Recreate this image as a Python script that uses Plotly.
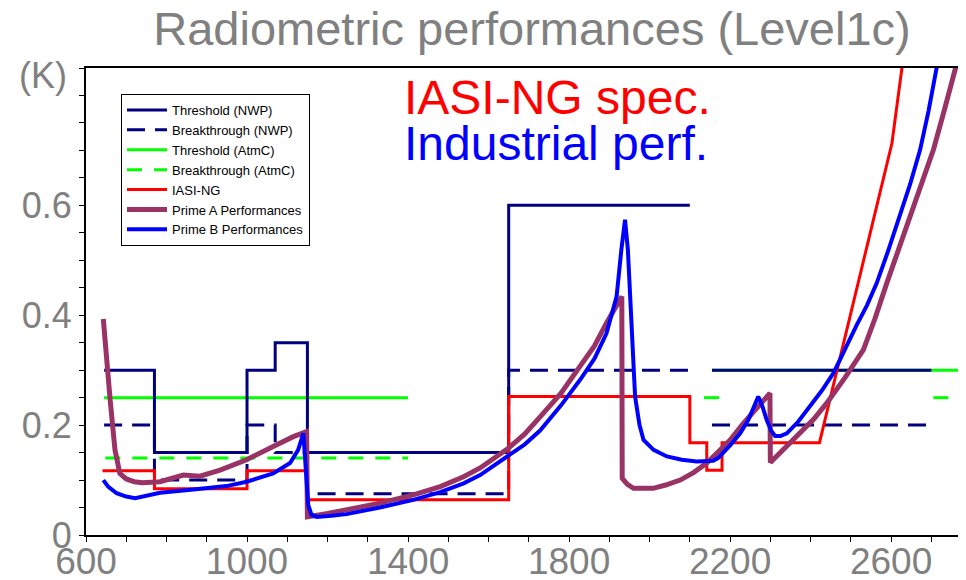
import plotly.graph_objects as go

# ---------------- data ----------------
thr_nwp_x = [645, 770, 770, 1000, 1000, 1070, 1070, 1150, 1150, 1650, 1650, 2100, None, 2155, 2700]
thr_nwp_y = [0.30, 0.30, 0.15, 0.15, 0.30, 0.30, 0.35, 0.35, 0.15, 0.15, 0.60, 0.60, None, 0.30, 0.30]

brk_nwp_x = [645, 770, 770, 1000, 1000, 1070, 1070, 1150, 1150, 1650, 1650, 2100, None, 2155, 2700]
brk_nwp_y = [0.20, 0.20, 0.10, 0.10, 0.20, 0.20, 0.15, 0.15, 0.075, 0.075, 0.30, 0.30, None, 0.20, 0.20]

thr_atm_x = [645, 1400, None, 2155, 2768]
thr_atm_y = [0.25, 0.25, None, 0.30, 0.30]

brk_atm_x = [648, 1400, None, 2135, 2185, None, 2705, 2745]
brk_atm_y = [0.14, 0.14, None, 0.25, 0.25, None, 0.25, 0.25]

iasi_x = [641, 770, 770, 1000, 1000, 1150, 1150, 1650, 1650, 2100, 2100, 2142, 2142, 2180, 2180, 2422, 2602, 2645]
iasi_y = [0.117, 0.117, 0.084, 0.084, 0.117, 0.117, 0.064, 0.064, 0.252, 0.252, 0.168, 0.168, 0.118, 0.118, 0.168, 0.168, 0.713, 0.95]

prime_a_x = [643, 650, 660, 672, 684, 700, 720, 740, 784, 842, 883, 933, 999, 1065, 1115, 1148,
             1150, 1200, 1247, 1330, 1413, 1480, 1538, 1579, 1649, 1690, 1728, 1780, 1827, 1863, 1893, 1931,
             1932, 1945, 1960, 2009, 2040, 2076, 2110, 2142, 2170, 2200, 2233, 2266, 2299,
             2300, 2337, 2374, 2408, 2440, 2485, 2531, 2560, 2589, 2618, 2647, 2676, 2705, 2732, 2759, 2780]
prime_a_y = [0.393, 0.32, 0.246, 0.155, 0.112, 0.102, 0.097, 0.095, 0.097, 0.109, 0.107, 0.118, 0.137, 0.161, 0.179, 0.188,
             0.033, 0.039, 0.046, 0.058, 0.073, 0.088, 0.106, 0.122, 0.158, 0.184, 0.215, 0.258, 0.307, 0.344, 0.386, 0.434,
             0.103, 0.092, 0.085, 0.085, 0.091, 0.100, 0.114, 0.131, 0.151, 0.173, 0.203, 0.230, 0.258,
             0.132, 0.158, 0.185, 0.211, 0.240, 0.286, 0.337, 0.394, 0.458, 0.518, 0.580, 0.640, 0.701, 0.773, 0.850, 0.905]

prime_b_x = [643, 655, 676, 700, 722, 750, 784, 867, 949, 999, 1065, 1107, 1127, 1140,
             1146, 1152, 1160, 1173, 1210, 1247, 1330, 1413, 1480, 1538, 1579, 1649, 1690, 1728, 1780, 1827, 1863, 1893, 1918, 1930, 1939,
             1946, 1952, 1964, 1975, 1985, 2010, 2043, 2080, 2117, 2158, 2170, 2200, 2225, 2245, 2260, 2270,
             2280, 2291, 2302, 2312, 2325, 2341, 2370, 2399, 2428, 2457, 2486, 2515, 2540, 2564, 2593, 2622, 2647, 2672, 2693, 2713, 2735]
prime_b_y = [0.100, 0.088, 0.076, 0.070, 0.067, 0.071, 0.077, 0.083, 0.089, 0.097, 0.112, 0.131, 0.155, 0.185,
             0.120, 0.055, 0.037, 0.033, 0.035, 0.038, 0.050, 0.064, 0.078, 0.094, 0.109, 0.143, 0.165, 0.190, 0.236, 0.282, 0.321, 0.367, 0.434, 0.520, 0.574,
             0.520, 0.434, 0.252, 0.200, 0.173, 0.155, 0.143, 0.137, 0.134, 0.135, 0.140, 0.163, 0.185, 0.209, 0.235, 0.252,
             0.235, 0.209, 0.190, 0.180, 0.180, 0.185, 0.207, 0.234, 0.263, 0.295, 0.340, 0.383, 0.418, 0.458, 0.518, 0.580, 0.638, 0.701, 0.772, 0.850, 0.92]

x_tick_vals = [600, 1000, 1400, 1800, 2200, 2600]
y_tick_vals = [0, 0.2, 0.4, 0.6]
y_tick_text = ["0", "0.2", "0.4", "0.6"]

# ---------------- figure ----------------
FONT = "Arial, Liberation Sans, sans-serif"
GRAY = "#808080"
W, H = 958, 572          # page body adds an 8px margin on the top/left
L, T, B = 78, 60, 45
PW, PH = W - L, H - T - B  # plot area size in px

fig = go.Figure()

def add(name, xs, ys, color, width, dash="solid", rank=1):
    fig.add_trace(go.Scatter(x=xs, y=ys, mode="lines", name=name, legendrank=rank,
                             line=dict(color=color, width=width, dash=dash),
                             connectgaps=False, hoverinfo="skip"))

add("Threshold (AtmC)", thr_atm_x, thr_atm_y, "#00FF00", 3, rank=3)
add("Breakthrough (AtmC)", brk_atm_x, brk_atm_y, "#00FF00", 3, dash="15px,12px", rank=4)
add("Threshold (NWP)", thr_nwp_x, thr_nwp_y, "#000080", 3, rank=1)
add("Breakthrough (NWP)", brk_nwp_x, brk_nwp_y, "#000080", 3, dash="18px,10px", rank=2)
add("IASI-NG", iasi_x, iasi_y, "#FF0000", 3, rank=5)
add("Prime A Performances", prime_a_x, prime_a_y, "#993366", 5, rank=6)
add("Prime B Performances", prime_b_x, prime_b_y, "#0000FF", 4, rank=7)

def px(xp):   # absolute page x -> paper fraction
    return (xp - 8 - L) / PW

def py(yp):   # absolute page y -> paper fraction
    return (T + PH - (yp - 8)) / PH

fig.update_layout(
    width=W, height=H,
    margin=dict(l=L, r=0, t=T, b=B, autoexpand=False),
    plot_bgcolor="white", paper_bgcolor="white",
    font=dict(family=FONT),
    title=dict(text="Radiometric performances (Level1c)", x=(532 - 8) / W, xanchor="center",
               y=1 - (29 - 8) / H, yanchor="middle", font=dict(size=47, color=GRAY, family=FONT)),
    showlegend=True,
    legend=dict(x=px(121), y=py(94), xanchor="left", yanchor="top", itemwidth=40,
                bgcolor="white", bordercolor="black", borderwidth=1,
                font=dict(size=13, color="black", family=FONT), tracegroupgap=0),
)

fig.update_xaxes(range=[600, 2786], showline=True, linecolor="black", linewidth=2, mirror=True,
                 automargin=False, showgrid=False, zeroline=False, tickmode="array", tickvals=x_tick_vals,
                 ticks="outside", ticklen=5, tickcolor="black", tickwidth=1, ticklabelstandoff=-12,
                 tickfont=dict(size=37, color=GRAY, family=FONT),
                 minor=dict(tickmode="linear", tick0=600, dtick=100, ticks="outside",
                            ticklen=5, tickcolor="black", tickwidth=1, showgrid=False))
fig.update_yaxes(range=[0, 0.85], showline=True, linecolor="black", linewidth=2, mirror=False,
                 automargin=False, showgrid=False, zeroline=False, tickmode="array", tickvals=y_tick_vals,
                 ticktext=y_tick_text, ticks="outside", ticklen=5, tickcolor="black", tickwidth=1,
                 tickfont=dict(size=36, color=GRAY, family=FONT),
                 minor=dict(tickmode="linear", tick0=0, dtick=0.05, ticks="outside",
                            ticklen=5, tickcolor="black", tickwidth=1, showgrid=False))

fig.add_annotation(text="(K)", xref="paper", yref="paper", x=px(43), y=py(75),
                   xanchor="center", yanchor="middle", showarrow=False,
                   font=dict(size=36, color=GRAY, family=FONT))
fig.add_annotation(text="IASI-NG spec.", xref="paper", yref="paper", x=px(402),
                   y=py(97), xanchor="left", yanchor="middle", showarrow=False,
                   font=dict(size=48, color="#FF0000", family=FONT))
fig.add_annotation(text="Industrial perf.", xref="paper", yref="paper", x=px(402),
                   y=py(143), xanchor="left", yanchor="middle", showarrow=False,
                   font=dict(size=48, color="#0000FF", family=FONT))

fig.write_html("out.html")
